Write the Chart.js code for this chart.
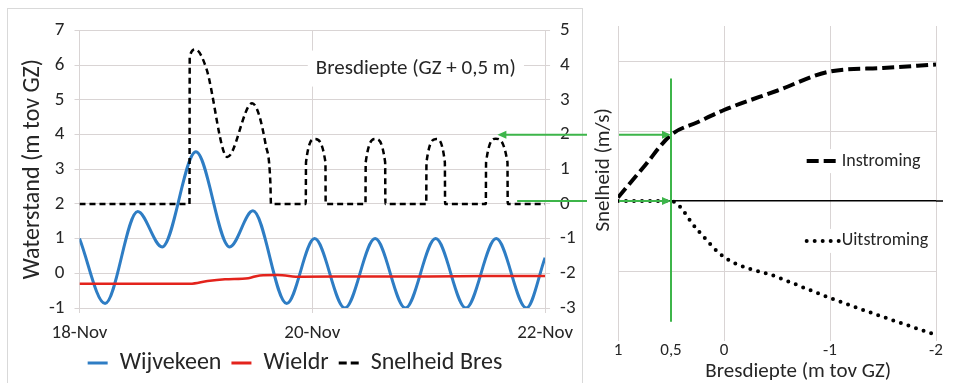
<!DOCTYPE html>
<html>
<head>
<meta charset="utf-8">
<script src="https://cdn.jsdelivr.net/npm/chart.js@4.4.1/dist/chart.umd.min.js"></script>
<style>
  html, body { margin: 0; padding: 0; background: #fff; }
  body { width: 954px; height: 383px; position: relative; overflow: hidden; }
  #leftBox { position: absolute; left: 7px; top: 8px; width: 576px; height: 390px; border: 1px solid #d9d9d9; box-sizing: border-box; }
  #leftChart { position: absolute; left: 8px; top: 9px; }
  #rightChart { position: absolute; left: 588px; top: 0; }
  #overlay { position: absolute; left: 0; top: 0; pointer-events: none; }
</style>
</head>
<body>
<div id="leftBox"></div>
<canvas id="leftChart" width="574" height="376"></canvas>
<canvas id="rightChart" width="366" height="383"></canvas>
<canvas id="overlay" width="954" height="383"></canvas>
<script>
// time axis: days after 18-Nov 00:00
const dayLabels = ["18-Nov", "19-Nov", "20-Nov", "21-Nov", "22-Nov"];

const wijvekeenDays  = [0, 0.22, 0.5, 0.71, 1.0, 1.29, 1.49, 1.78, 2.02, 2.28, 2.54, 2.8, 3.06, 3.32, 3.58, 3.84, 4.0];
const wijvekeenLevel = [1.0, -0.87, 1.78, 0.76, 3.5, 0.76, 1.8, -0.87, 1.0, -1.0, 1.0, -1.0, 1.0, -1.0, 1.0, -1.0, 0.45];

const wieldrDays  = [0, 0.95, 1.1, 1.25, 1.45, 1.55, 1.7, 1.9, 2.5, 3.0, 3.5, 4.0];
const wieldrLevel = [-0.3, -0.3, -0.22, -0.17, -0.14, -0.06, -0.05, -0.1, -0.09, -0.09, -0.08, -0.08];

const bresDays = [
    0, 0.945, 0.947, 0.996, 1.09, 1.27, 1.483, 1.6, 1.64, 1.645,
    1.944, 1.946, 2.021, 2.113, 2.115,
    2.457, 2.459, 2.543, 2.626, 2.628,
    2.979, 2.981, 3.064, 3.139, 3.141,
    3.491, 3.493, 3.577, 3.677, 3.679,
    4.0
];
const bresSpeed = [
    0, 0, 4.25, 4.45, 3.9, 1.35, 2.9, 1.7, 0.6, 0,
    0, 1.2, 1.87, 1.2, 0,
    0, 1.2, 1.87, 1.2, 0,
    0, 1.2, 1.87, 1.2, 0,
    0, 1.2, 1.88, 1.2, 0,
    0
];

// right chart: speed against breach depth
const depthTicks = [1, 0.5, 0, -1, -2];
const speedGrid = [-4, -2, 0, 2, 4];
const instromingDepth = [1, 0.75, 0.5, 0.25, 0, -0.5, -1, -1.5, -2];
const instroming      = [0.1, 1.0, 1.89, 2.25, 2.6, 3.15, 3.7, 3.8, 3.9];
const uitstromingDepth = [1, 0.5, 0.25, 0, -0.5, -1, -1.5, -2];
const uitstroming      = [0, 0, -0.83, -1.6, -2.17, -2.77, -3.31, -3.83];

const GRID = "#d9d4d4";
const GREEN = "#3db54a";
const TEXT = "#262626";
const FONT = "Carlito, Lato, sans-serif";

Chart.defaults.font.family = FONT;
Chart.defaults.color = TEXT;

function toPoints(xs, ys) {
    return xs.map((x, i) => ({ x: x, y: ys[i] }));
}

const bresLabel = {
    id: "bresLabel",
    beforeDatasetsDraw(chart) {
        const ctx = chart.ctx;
        const x = chart.scales.x.getPixelForValue(2.89);
        const y = chart.scales.y.getPixelForValue(5.9);
        const text = "Bresdiepte (GZ + 0,5 m)";
        ctx.save();
        ctx.font = "21px " + FONT;
        const w = ctx.measureText(text).width;
        ctx.fillStyle = "#fff";
        ctx.fillRect(x - w / 2 - 8, y - 18, w + 16, 36);
        ctx.fillStyle = TEXT;
        ctx.textAlign = "center";
        ctx.textBaseline = "middle";
        ctx.fillText(text, x, y);
        ctx.restore();
    }
};

const leftChart = new Chart(document.getElementById("leftChart"), {
    type: "line",
    data: {
        datasets: [
            {
                label: "Wijvekeen",
                data: toPoints(wijvekeenDays, wijvekeenLevel),
                borderColor: "#2e7dc4",
                borderWidth: 3,
                yAxisID: "y",
                order: 2
            },
            {
                label: "Wieldr",
                data: toPoints(wieldrDays, wieldrLevel),
                borderColor: "#e3231c",
                borderWidth: 2.5,
                yAxisID: "y",
                order: 1
            },
            {
                label: "Snelheid Bres",
                data: toPoints(bresDays, bresSpeed),
                borderColor: "#000",
                borderWidth: 2.5,
                borderDash: [6, 4],
                yAxisID: "y1",
                order: 0
            }
        ]
    },
    options: {
        responsive: false,
        animation: false,
        elements: {
            point: { radius: 0 },
            line: { cubicInterpolationMode: "monotone", fill: false }
        },
        layout: { padding: { top: 14, left: 0, right: 0, bottom: 0 } },
        plugins: {
            tooltip: { enabled: false },
            legend: {
                position: "bottom",
                labels: {
                    usePointStyle: true,
                    pointStyle: "line",
                    pointStyleWidth: 20,
                    font: { size: 24 },
                    color: TEXT,
                    padding: 10,
                    sort: (a, b) => a.datasetIndex - b.datasetIndex,
                    generateLabels: chart =>
                        Chart.defaults.plugins.legend.labels.generateLabels(chart).map(item => {
                            const ds = chart.data.datasets[item.datasetIndex];
                            item.strokeStyle = ds.borderColor;
                            item.lineWidth = 3;
                            item.lineDash = ds.borderDash ? [8, 4] : [];
                            return item;
                        })
                }
            }
        },
        scales: {
            x: {
                type: "linear",
                min: 0,
                max: 4,
                ticks: {
                    stepSize: 2,
                    maxRotation: 0,
                    font: { size: 19 },
                    padding: 9,
                    callback: v => dayLabels[v]
                },
                grid: { color: GRID, tickLength: 5 },
                border: { color: GRID },
                afterFit: s => { s.height = 33; }
            },
            y: {
                min: -1,
                max: 7,
                ticks: { stepSize: 1, font: { size: 19 }, padding: 10 },
                grid: { color: GRID, tickLength: 5 },
                border: { color: GRID },
                title: {
                    display: true,
                    text: "Waterstand (m tov GZ)",
                    font: { size: 24 },
                    padding: { top: 11, bottom: 0 }
                },
                afterFit: s => { s.width = 71.5; }
            },
            y1: {
                position: "right",
                min: -3,
                max: 5,
                ticks: { stepSize: 1, font: { size: 19 }, padding: 10 },
                grid: { drawOnChartArea: false, color: GRID, tickLength: 5 },
                border: { color: GRID },
                afterFit: s => { s.width = 35; }
            }
        }
    },
    plugins: [bresLabel]
});

// legend entries and axis titles of the right chart
const flowLabels = {
    id: "flowLabels",
    afterDatasetsDraw(chart) {
        const ctx = chart.ctx;
        const xs = chart.scales.x, ys = chart.scales.y;
        const items = [
            { text: "Instroming", y: 1.14, dash: [12, 5], cap: "butt" },
            { text: "Uitstroming", y: -1.14, dash: [0, 8], cap: "round" }
        ];
        ctx.save();

        // zero line runs a little past the plot
        const yZero = ys.getPixelForValue(0);
        ctx.strokeStyle = "#000";
        ctx.lineWidth = 1.5;
        ctx.beginPath();
        ctx.moveTo(chart.chartArea.right, yZero);
        ctx.lineTo(chart.chartArea.right + 7, yZero);
        ctx.stroke();

        ctx.font = "18px " + FONT;
        items.forEach(it => {
            const x0 = xs.getPixelForValue(-0.78);
            const y = ys.getPixelForValue(it.y);
            const w = ctx.measureText(it.text).width;
            ctx.fillStyle = "#fff";
            ctx.fillRect(x0 - 4, y - 12, 42 + w, 24);
            ctx.strokeStyle = "#000";
            ctx.lineWidth = 4;
            ctx.lineCap = it.cap;
            ctx.setLineDash(it.dash);
            ctx.beginPath();
            ctx.moveTo(x0, y);
            ctx.lineTo(x0 + 33, y);
            ctx.stroke();
            ctx.setLineDash([]);
            ctx.fillStyle = TEXT;
            ctx.textBaseline = "middle";
            ctx.fillText(it.text, x0 + 35, y);
        });

        ctx.font = "21px " + FONT;
        ctx.textAlign = "center";
        ctx.textBaseline = "middle";
        ctx.fillText("Bresdiepte (m tov GZ)", xs.getPixelForValue(-0.7), chart.height - 11);
        ctx.translate(16, ys.getPixelForValue(0.89));
        ctx.rotate(-Math.PI / 2);
        ctx.fillText("Snelheid (m/s)", 0, 0);
        ctx.restore();
    }
};

const rightChart = new Chart(document.getElementById("rightChart"), {
    type: "line",
    data: {
        datasets: [
            {
                label: "Instroming",
                data: toPoints(instromingDepth, instroming),
                borderColor: "#000",
                borderWidth: 4,
                borderDash: [12, 5]
            },
            {
                label: "Uitstroming",
                data: toPoints(uitstromingDepth, uitstroming),
                borderColor: "#000",
                borderWidth: 4,
                borderDash: [0, 8],
                borderCapStyle: "round"
            }
        ]
    },
    options: {
        responsive: false,
        animation: false,
        elements: {
            point: { radius: 0 },
            line: { cubicInterpolationMode: "monotone", fill: false }
        },
        layout: { padding: { top: 26, left: 0, right: 18, bottom: 0 } },
        plugins: {
            legend: { display: false },
            tooltip: { enabled: false }
        },
        scales: {
            x: {
                type: "linear",
                reverse: true,
                min: -2,
                max: 1,
                afterBuildTicks: s => { s.ticks = depthTicks.map(v => ({ value: v })); },
                ticks: {
                    font: { size: 17 },
                    padding: 0,
                    maxRotation: 0,
                    callback: v => String(v).replace(".", ",")
                },
                grid: {
                    color: c => (c.tick && c.tick.value === 0.5) ? "rgba(0,0,0,0)" : GRID,
                    drawTicks: false
                },
                border: { display: false },
                afterFit: s => { s.height = 42; }
            },
            y: {
                min: -4,
                max: 5,
                afterBuildTicks: s => { s.ticks = speedGrid.map(v => ({ value: v })); },
                ticks: { display: false },
                grid: {
                    color: c => c.tick.value === 0 ? "#000" : (c.tick.value === -4 ? "rgba(0,0,0,0)" : GRID),
                    lineWidth: c => c.tick.value === 0 ? 1.5 : 1,
                    drawTicks: false
                },
                border: { display: false },
                afterFit: s => { s.width = 30; }
            }
        }
    },
    plugins: [flowLabels]
});

// green guide lines linking both charts
function arrowHead(ctx, x, y, dir) {
    ctx.beginPath();
    ctx.moveTo(x, y);
    ctx.lineTo(x - dir * 9, y - 4);
    ctx.lineTo(x - dir * 9, y + 4);
    ctx.closePath();
    ctx.fill();
}

function drawOverlay() {
    const ctx = document.getElementById("overlay").getContext("2d");
    const L = document.getElementById("leftChart");
    const R = document.getElementById("rightChart");
    const lx = leftChart.scales.x;
    const rx = rightChart.scales.x, ry = rightChart.scales.y;

    const tipRight = R.offsetLeft + rx.getPixelForValue(0.5);
    const gapStart = R.offsetLeft - 1;
    const gapEnd = R.offsetLeft + rx.left + 1;

    ctx.strokeStyle = GREEN;
    ctx.fillStyle = GREEN;
    ctx.lineWidth = 2;

    // arrow from inflow curve back to last hump of Snelheid Bres
    const y1 = R.offsetTop + ry.getPixelForValue(instroming[2]);
    const tipLeft = L.offsetLeft + lx.getPixelForValue(3.59);
    ctx.beginPath();
    ctx.moveTo(tipLeft + 6, y1); ctx.lineTo(gapStart, y1);
    ctx.moveTo(gapEnd, y1); ctx.lineTo(tipRight - 6, y1);
    ctx.stroke();
    arrowHead(ctx, tipLeft, y1, -1);
    arrowHead(ctx, tipRight, y1, 1);

    // zero line arrow
    const y0 = R.offsetTop + ry.getPixelForValue(0);
    const startZero = L.offsetLeft + lx.getPixelForValue(3.76);
    ctx.beginPath();
    ctx.moveTo(startZero, y0); ctx.lineTo(gapStart, y0);
    ctx.moveTo(gapEnd, y0); ctx.lineTo(tipRight - 6, y0);
    ctx.stroke();
    arrowHead(ctx, tipRight, y0, 1);

    // vertical marker at 0,5 m
    ctx.beginPath();
    ctx.moveTo(tipRight, R.offsetTop + ry.getPixelForValue(3.5));
    ctx.lineTo(tipRight, R.offsetTop + ry.getPixelForValue(-3.45));
    ctx.stroke();
}

drawOverlay();
</script>
</body>
</html>
